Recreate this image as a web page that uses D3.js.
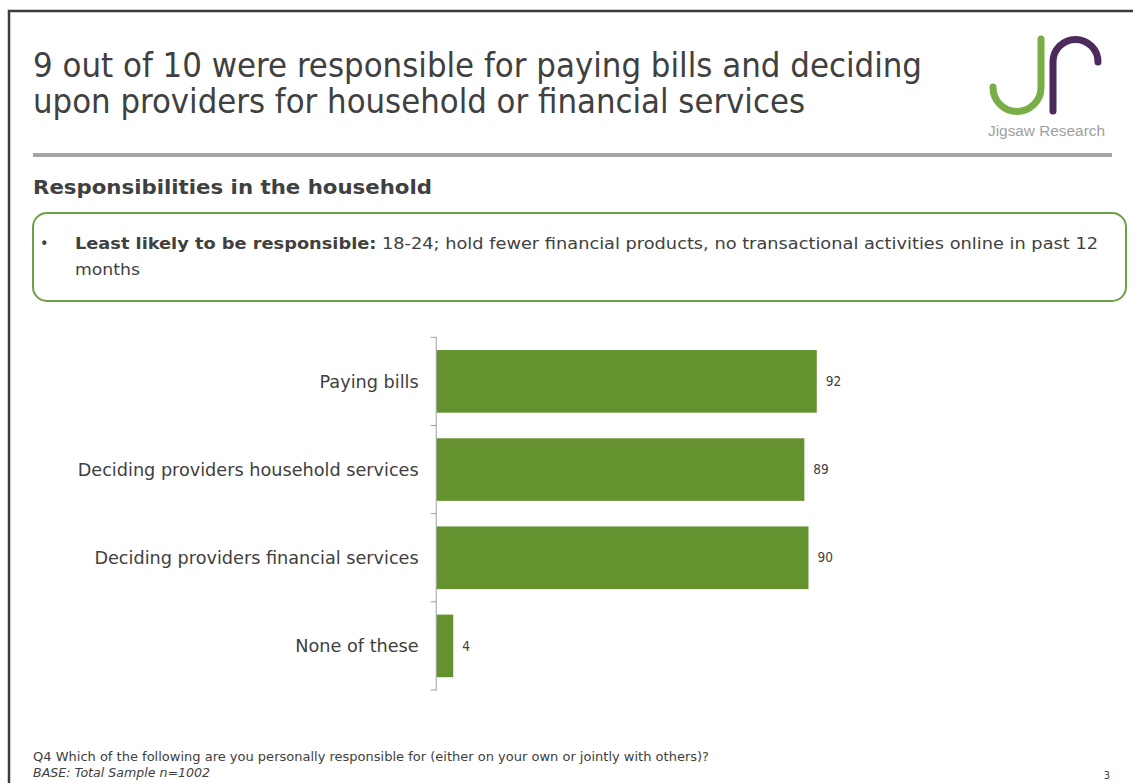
<!DOCTYPE html>
<html>
<head>
<meta charset="utf-8">
<script src="https://cdn.jsdelivr.net/npm/d3@7"></script>
<style>
  html, body { margin: 0; padding: 0; background: #ffffff; }
  svg { display: block; }
  text { font-family: "DejaVu Sans", "Noto Sans", sans-serif; font-stretch: condensed; fill: #404040; }
</style>
</head>
<body>
<svg id="slide" width="1133" height="783"></svg>
<script>
// Responsibilities in the household (% of total sample)
const categories = [
  "Paying bills",
  "Deciding providers household services",
  "Deciding providers financial services",
  "None of these"
];
const values = [92, 89, 90, 4];

const titleLines = [
  "9 out of 10 were responsible for paying bills and deciding",
  "upon providers for household or financial services"
];
const subtitle = "Responsibilities in the household";
const bulletLead = "Least likely to be responsible:";
const bulletRest = " 18-24; hold fewer financial products, no transactional activities online in past 12";
const bulletLine2 = "months";
const questionNote = "Q4 Which of the following are you personally responsible for (either on your own or jointly with others)?";
const baseNote = "BASE: Total Sample n=1002";
const pageNumber = "3";
const brandName = "Jigsaw Research";

const svg = d3.select("#slide");
const textColor = "#404040";
const barColor = "#63922f";

// Squeeze or stretch a text element so it spans the given width.
function fitWidth(sel, width) {
  sel.attr("textLength", width).attr("lengthAdjust", "spacingAndGlyphs");
  return sel;
}

// Slide frame (top and left edges visible)
svg.append("path")
  .attr("d", "M9,1000 V11 H1200")
  .attr("fill", "none")
  .attr("stroke", "#3c3c3c")
  .attr("stroke-width", 2.5);

// Title
const titleWidths = [889, 772];
titleLines.forEach((line, i) => {
  fitWidth(
    svg.append("text")
      .attr("x", 33).attr("y", 77 + i * 36)
      .attr("font-size", 33)
      .text(line),
    titleWidths[i]);
});

// Logo: green J and purple r
svg.append("path")
  .attr("d", "M1041,39 V88 A24,24 0 0 1 993,87")
  .attr("fill", "none").attr("stroke", "#78ad48")
  .attr("stroke-width", 7).attr("stroke-linecap", "round");
svg.append("path")
  .attr("d", "M1053,111 V62 A22.5,22.5 0 0 1 1098,62")
  .attr("fill", "none").attr("stroke", "#4d2a5c")
  .attr("stroke-width", 7).attr("stroke-linecap", "round");
fitWidth(
  svg.append("text")
    .attr("x", 988).attr("y", 136)
    .attr("font-size", 14)
    .style("font-family", "'Liberation Sans', Arial, sans-serif")
    .style("font-stretch", "normal")
    .style("fill", "#a0a0a0")
    .text(brandName),
  117);

// Divider rule
svg.append("rect")
  .attr("x", 33).attr("y", 153)
  .attr("width", 1079).attr("height", 4)
  .attr("fill", "#a6a6a6");

// Section heading
fitWidth(
  svg.append("text")
    .attr("x", 33).attr("y", 194)
    .attr("font-size", 20)
    .attr("font-weight", "bold")
    .text(subtitle),
  399);

// Callout box
svg.append("rect")
  .attr("x", 33).attr("y", 213)
  .attr("width", 1093).attr("height", 88)
  .attr("rx", 14).attr("ry", 14)
  .attr("fill", "#ffffff")
  .attr("stroke", "#70a044")
  .attr("stroke-width", 2);

svg.append("text")
  .attr("x", 40).attr("y", 249)
  .attr("font-size", 16)
  .text("\u2022");

const bullet = svg.append("text")
  .attr("x", 75).attr("y", 249)
  .attr("font-size", 16.5);
bullet.append("tspan").attr("font-weight", "bold").text(bulletLead);
bullet.append("tspan").text(bulletRest);
fitWidth(bullet, 1023);

fitWidth(
  svg.append("text")
    .attr("x", 75).attr("y", 275)
    .attr("font-size", 16.5)
    .text(bulletLine2),
  65);

// Bar chart
const y = d3.scaleBand()
  .domain(categories)
  .range([337.3, 690])
  .paddingInner(0.29)
  .paddingOuter(0.145);

const x = d3.scaleLinear()
  .domain([0, 100])
  .range([436.7, 849.8]);

const chart = svg.append("g");

// Axis line with ticks on category boundaries
const [y0, y1] = y.range();
chart.append("line")
  .attr("x1", x(0) - 0.5).attr("x2", x(0) - 0.5)
  .attr("y1", y0).attr("y2", y1)
  .attr("stroke", "#a0a0a0").attr("stroke-width", 1);
const boundaries = d3.range(categories.length + 1).map(i => y0 + i * y.step());
chart.selectAll("line.tick")
  .data(boundaries)
  .join("line")
  .attr("class", "tick")
  .attr("x1", x(0) - 6).attr("x2", x(0))
  .attr("y1", d => d).attr("y2", d => d)
  .attr("stroke", "#a0a0a0").attr("stroke-width", 1);

// Bars
chart.selectAll("rect.bar")
  .data(values)
  .join("rect")
  .attr("class", "bar")
  .attr("x", x(0))
  .attr("y", (d, i) => y(categories[i]))
  .attr("width", d => x(d) - x(0))
  .attr("height", y.bandwidth())
  .attr("fill", barColor);

// Value labels
chart.selectAll("text.value")
  .data(values)
  .join("text")
  .attr("class", "value")
  .attr("x", d => x(d) + 9)
  .attr("y", (d, i) => y(categories[i]) + y.bandwidth() / 2)
  .attr("dy", "0.35em")
  .attr("font-size", 13.5)
  .text(d => d);

// Category labels, squeezed to a common condensed width
const labels = chart.selectAll("text.cat")
  .data(categories)
  .join("text")
  .attr("class", "cat")
  .attr("x", x(0) - 18)
  .attr("y", d => y(d) + y.bandwidth() / 2)
  .attr("dy", "0.35em")
  .attr("text-anchor", "end")
  .attr("font-size", 18.5)
  .text(d => d);
const widest = d3.max(labels.nodes(), n => n.getComputedTextLength());
const squeeze = 341 / widest;
labels.each(function () {
  const w = this.getComputedTextLength() * squeeze;
  d3.select(this).attr("textLength", w).attr("lengthAdjust", "spacingAndGlyphs");
});

// Footnotes
fitWidth(
  svg.append("text")
    .attr("x", 33).attr("y", 761)
    .attr("font-size", 12.5)
    .text(questionNote),
  676);
fitWidth(
  svg.append("text")
    .attr("x", 33).attr("y", 777)
    .attr("font-size", 12.5)
    .attr("font-style", "italic")
    .text(baseNote),
  177);
svg.append("text")
  .attr("x", 1110).attr("y", 779)
  .attr("text-anchor", "end")
  .attr("font-size", 11)
  .text(pageNumber);
</script>
</body>
</html>
